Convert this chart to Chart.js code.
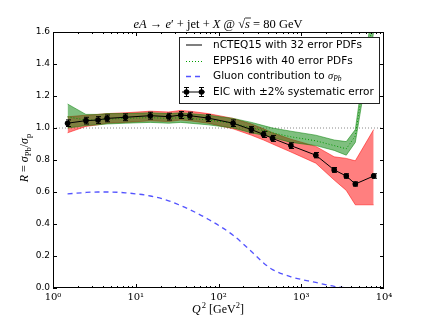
<!DOCTYPE html>
<html><head><meta charset="utf-8">
<script src="https://cdn.jsdelivr.net/npm/chart.js@4"></script>
<style>html,body{margin:0;padding:0;background:#fff}canvas{display:block}</style>
</head><body>
<canvas id="c" width="427" height="321"></canvas>
<script>
// ---- data ----
const q2 = [1.5, 2.5, 3.5, 4.5, 7.5, 15, 25, 35, 45, 75, 150, 250, 350, 450, 750, 1500, 2500, 3500, 4500, 7500];
const eicRatio = [1.03, 1.046, 1.05, 1.06, 1.067, 1.077, 1.071, 1.081, 1.077, 1.062, 1.03, 0.99, 0.96, 0.935, 0.89, 0.83, 0.738, 0.70, 0.65, 0.70];
const ncteqLow  = [0.97, 1.01, 1.02, 1.03, 1.035, 1.045, 1.04, 1.05, 1.045, 1.03, 0.995, 0.955, 0.925, 0.90, 0.85, 0.78, 0.675, 0.61, 0.52, 0.52];
const ncteqHigh = [1.07, 1.08, 1.085, 1.09, 1.095, 1.105, 1.10, 1.11, 1.105, 1.09, 1.06, 1.025, 0.995, 0.97, 0.93, 0.885, 0.82, 0.81, 0.795, 0.99];
const eppsCentral = [1.07, 1.05, 1.05, 1.055, 1.06, 1.065, 1.06, 1.065, 1.06, 1.05, 1.03, 1.0, 0.985, 0.97, 0.945, 0.92, 0.89, 0.87, 0.95, 1.70];
const eppsLow  = [1.0, 1.015, 1.02, 1.025, 1.03, 1.035, 1.03, 1.035, 1.03, 1.02, 1.0, 0.97, 0.955, 0.94, 0.91, 0.89, 0.86, 0.83, 0.91, 1.60];
const eppsHigh = [1.15, 1.085, 1.085, 1.09, 1.09, 1.095, 1.09, 1.095, 1.09, 1.08, 1.06, 1.035, 1.015, 1.0, 0.98, 0.955, 0.925, 0.915, 0.99, 1.80];
const gluon = [0.588, 0.597, 0.6, 0.6, 0.595, 0.575, 0.545, 0.515, 0.49, 0.43, 0.33, 0.228, 0.157, 0.115, 0.07, 0.035, 0.01, 0.002, 0.0, null];
const sysErr = 0.02;
const yTicks = [0, 0.2, 0.4, 0.6, 0.8, 1.0, 1.2, 1.4, 1.6];
const xTicks = [1, 10, 100, 1000, 10000];
const xTickLabels = ['10\u2070', '10\u00b9', '10\u00b2', '10\u00b3', '10\u2074'];
const legendLabels = ['nCTEQ15 with 32 error PDFs', 'EPPS16 with 40 error PDFs', 'Gluon contribution to ', 'EIC with \u00b12% systematic error'];

const pts = ys => q2.map((x, i) => ({x, y: ys[i]}));
const RED = 'rgba(255,0,0,0.5)', GREEN = 'rgba(0,128,0,0.5)';

function drawSegs(ctx, segs, x, y, align) {
  let w = 0;
  segs.forEach(s => { ctx.font = s.f; s.w = ctx.measureText(s.t).width; w += s.w + (s.sp || 0); });
  let cx = align === 'center' ? x - w / 2 : x;
  ctx.textBaseline = 'alphabetic'; ctx.textAlign = 'left';
  segs.forEach(s => {
    ctx.font = s.f;
    ctx.fillText(s.t, cx, y + (s.dy || 0));
    if (s.over) { ctx.beginPath(); ctx.moveTo(cx, y - 9.5); ctx.lineTo(cx + s.w + 1, y - 9.5); ctx.lineWidth = 0.8; ctx.stroke(); }
    cx += s.w + (s.sp || 0);
  });
  return w;
}

const decor = {
  id: 'decor',
  afterDatasetsDraw(chart) {
    const {ctx, scales: {x, y}} = chart;
    ctx.save(); ctx.strokeStyle = '#000'; ctx.lineWidth = 1;
    q2.forEach((q, i) => {
      const px = Math.round(x.getPixelForValue(q)) + 0.5;
      const t = y.getPixelForValue(eicRatio[i] * (1 + sysErr)), b = y.getPixelForValue(eicRatio[i] * (1 - sysErr));
      ctx.beginPath(); ctx.moveTo(px, t); ctx.lineTo(px, b);
      ctx.moveTo(px - 2.5, t); ctx.lineTo(px + 2.5, t);
      ctx.moveTo(px - 2.5, b); ctx.lineTo(px + 2.5, b);
      ctx.stroke();
    });
    ctx.restore();
  },
  afterDraw(chart) {
    const {ctx, chartArea: a, scales: {x, y}} = chart;
    ctx.save();
    ctx.strokeStyle = '#000'; ctx.lineWidth = 1;
    ctx.strokeRect(Math.round(a.left) + 0.5, Math.round(a.top) + 0.5, Math.round(a.right - a.left) - 1, Math.round(a.bottom - a.top) - 1);
    ctx.beginPath();
    for (let d = 0; d < 4; d++) {
      for (let m = 1; m < 10; m++) {
        const v = m * Math.pow(10, d);
        const px = Math.round(x.getPixelForValue(v)) + 0.5;
        const L = m === 1 ? 4 : 2;
        ctx.moveTo(px, a.bottom); ctx.lineTo(px, a.bottom - L);
        ctx.moveTo(px, a.top); ctx.lineTo(px, a.top + L);
      }
    }
    yTicks.forEach(v => {
      const py = Math.round(y.getPixelForValue(v)) + 0.5;
      ctx.moveTo(a.left, py); ctx.lineTo(a.left + 4, py);
      ctx.moveTo(a.right, py); ctx.lineTo(a.right - 4, py);
    });
    ctx.stroke();
    ctx.fillStyle = '#000';
    const S = '12.5px "Liberation Serif"', I = 'italic 12.5px "Liberation Serif"';
    drawSegs(ctx, [
      {t: 'eA', f: I}, {t: ' \u2192 ', f: S}, {t: 'e', f: I}, {t: '\u2032', f: S}, {t: ' + jet + ', f: S},
      {t: 'X', f: I}, {t: ' @ ', f: S}, {t: '\u221a', f: S}, {t: 's', f: I, over: true}, {t: ' = 80 GeV', f: S}
    ], 218, 27.5, 'center');
    drawSegs(ctx, [
      {t: 'Q', f: 'italic 12px "Liberation Serif"', sp: 1}, {t: '2', f: '8.5px "Liberation Serif"', dy: -5},
      {t: ' [GeV', f: '12px "Liberation Serif"'}, {t: '2', f: '8.5px "Liberation Serif"', dy: -5}, {t: ']', f: '12px "Liberation Serif"'}
    ], 218, 313, 'center');
    ctx.save(); ctx.translate(28, 158); ctx.rotate(-Math.PI / 2);
    drawSegs(ctx, [
      {t: 'R', f: 'italic 12px "Liberation Serif"'}, {t: ' = ', f: '12px "Liberation Serif"'},
      {t: '\u03c3', f: 'italic 12px "Liberation Serif"'}, {t: 'Pb', f: '8.5px "Liberation Serif"', dy: 2.5},
      {t: '/', f: '12px "Liberation Serif"'}, {t: '\u03c3', f: 'italic 12px "Liberation Serif"'}, {t: 'p', f: '8.5px "Liberation Serif"', dy: 2.5}
    ], 0, 0, 'center');
    ctx.restore();
    const lx = 179.5, ly = 37.5, lw = 200, lh = 66;
    ctx.fillStyle = '#fff'; ctx.fillRect(lx, ly, lw, lh);
    ctx.strokeStyle = '#222'; ctx.lineWidth = 1; ctx.strokeRect(lx, ly, lw, lh);
    const rows = [45, 61, 76.5, 92];
    const h0 = 186, h1 = 202, tx = 213;
    ctx.strokeStyle = '#7f7f7f'; ctx.lineWidth = 2;
    ctx.beginPath(); ctx.moveTo(h0, rows[0]); ctx.lineTo(h1, rows[0]); ctx.stroke();
    ctx.strokeStyle = 'rgb(0,160,0)'; ctx.lineWidth = 1; ctx.setLineDash([1, 2]);
    ctx.beginPath(); ctx.moveTo(h0, rows[1] + 0.5); ctx.lineTo(h1, rows[1] + 0.5); ctx.stroke();
    ctx.strokeStyle = 'rgba(40,40,255,0.8)'; ctx.lineWidth = 1.3; ctx.setLineDash([5, 4]);
    ctx.beginPath(); ctx.moveTo(h0, rows[2]); ctx.lineTo(h1, rows[2]); ctx.stroke();
    ctx.setLineDash([]);
    ctx.strokeStyle = '#000'; ctx.fillStyle = '#000'; ctx.lineWidth = 1;
    ctx.beginPath(); ctx.moveTo(h0 - 4, rows[3]); ctx.lineTo(h1 + 3, rows[3]); ctx.stroke();
    [h0, h1 - 1].forEach(hx => {
      ctx.beginPath(); ctx.moveTo(hx + 0.5, rows[3] - 5); ctx.lineTo(hx + 0.5, rows[3] + 5);
      ctx.moveTo(hx - 2, rows[3] - 5 + 0.5); ctx.lineTo(hx + 3, rows[3] - 5 + 0.5);
      ctx.moveTo(hx - 2, rows[3] + 5 - 0.5); ctx.lineTo(hx + 3, rows[3] + 5 - 0.5); ctx.stroke();
      ctx.beginPath(); ctx.arc(hx + 0.5, rows[3], 2.8, 0, Math.PI * 2); ctx.fill();
    });
    ctx.fillStyle = '#000';
    ctx.font = '10.5px "DejaVu Sans"'; ctx.textBaseline = 'middle'; ctx.textAlign = 'left';
    ctx.fillText(legendLabels[0], tx, rows[0]);
    ctx.fillText(legendLabels[1], tx, rows[1]);
    const w3 = ctx.measureText(legendLabels[2]).width;
    ctx.fillText(legendLabels[2], tx, rows[2]);
    ctx.font = 'italic 10.5px "Liberation Serif"'; ctx.fillText('\u03c3', tx + w3, rows[2]);
    const ws = ctx.measureText('\u03c3').width;
    ctx.font = 'italic 7.5px "Liberation Serif"'; ctx.fillText('Pb', tx + w3 + ws, rows[2] + 3);
    ctx.font = '10.5px "DejaVu Sans"';
    ctx.fillText(legendLabels[3], tx, rows[3]);
    ctx.restore();
  }
};

new Chart(document.getElementById('c'), {
  type: 'line',
  data: {
    datasets: [
      {data: [{x: 1, y: 1}, {x: 10000, y: 1}], borderColor: '#888', borderDash: [1, 2], borderWidth: 1, pointRadius: 0, order: 100},
      {data: pts(ncteqLow), borderColor: RED, borderWidth: 1, pointRadius: 0, fill: false, order: 90},
      {data: pts(ncteqHigh), borderColor: RED, backgroundColor: RED, borderWidth: 1, pointRadius: 0, fill: 1, order: 90},
      {data: pts(eppsLow), borderColor: GREEN, borderWidth: 1, pointRadius: 0, fill: false, order: 80},
      {data: pts(eppsHigh), borderColor: GREEN, backgroundColor: GREEN, borderWidth: 1, pointRadius: 0, fill: 3, order: 80},
      {data: pts(eppsCentral), borderColor: 'rgb(0,150,0)', borderDash: [1, 2], borderWidth: 1, pointRadius: 0, order: 70},
      {data: pts(gluon), borderColor: 'rgba(40,40,255,0.8)', borderDash: [5, 4], borderWidth: 1.3, pointRadius: 0, cubicInterpolationMode: 'monotone', order: 60},
      {data: pts(eicRatio), borderColor: '#000', borderWidth: 1, pointRadius: 2.8, pointBackgroundColor: '#000', pointBorderWidth: 0, order: 50}
    ]
  },
  options: {
    responsive: false, animation: false, events: [],
    layout: {padding: {left: 0, right: 43, top: 32, bottom: 0}},
    plugins: {legend: {display: false}, tooltip: {enabled: false}, title: {display: false}},
    scales: {
      x: {
        type: 'logarithmic', min: 1, max: 10000,
        afterBuildTicks: s => { s.ticks = xTicks.map(v => ({value: v})); },
        afterFit: s => { s.height = 33; },
        grid: {display: false, drawTicks: false}, border: {display: false},
        ticks: {callback: (v) => xTickLabels[xTicks.indexOf(v)], font: {family: 'DejaVu Serif', size: 10}, color: '#000', padding: 3, maxRotation: 0, autoSkip: false}
      },
      y: {
        min: 0, max: 1.6,
        afterBuildTicks: s => { s.ticks = yTicks.map(v => ({value: v})); },
        afterFit: s => { s.width = 53; },
        grid: {display: false, drawTicks: false}, border: {display: false},
        ticks: {callback: v => v.toFixed(1), font: {family: 'DejaVu Sans', size: 9}, color: '#000', padding: 3}
      }
    }
  },
  plugins: [decor]
});
</script>
</body></html>
